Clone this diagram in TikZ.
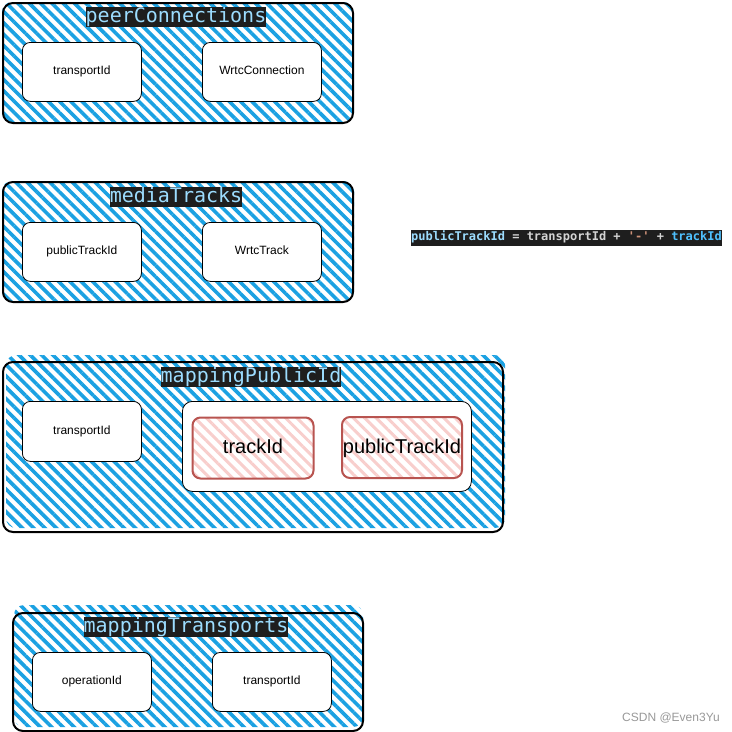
\documentclass[tikz,border=0pt]{standalone}
\usepackage{fontspec}
\setmainfont{Liberation Sans}
\newfontfamily\codefont{DejaVu Sans Mono}
\usetikzlibrary{patterns.meta}
\definecolor{hatchblue}{HTML}{1BA1E2}
\definecolor{codebg}{HTML}{1E1E1E}
\definecolor{codeblue}{HTML}{9CDCFE}
\definecolor{codelight}{HTML}{D4D4D4}
\definecolor{codestr}{HTML}{CE9178}
\definecolor{codevar}{HTML}{4FC1FF}
\definecolor{pinkfill}{HTML}{F8CECC}
\definecolor{pinkborder}{HTML}{B85450}
\definecolor{wmgrey}{HTML}{999999}
\begin{document}
\begin{tikzpicture}[x=1pt,y=-1pt,
  hatch/.style={pattern={Lines[angle=-45,distance=8pt,line width=3.6pt]}, pattern color=hatchblue, rounded corners=10pt},
  frame/.style={draw=black, line width=2pt, rounded corners=10pt, inner sep=0pt, anchor=north west},
  field/.style={draw=black, line width=0.8pt, fill=white, rounded corners=8pt, minimum width=119pt, minimum height=59pt, anchor=north west, inner sep=0pt, font=\fontsize{12}{14}\selectfont, text height=9pt, text depth=3pt},
  holder/.style={draw=black, line width=0.8pt, fill=white, rounded corners=10pt, anchor=north west, inner sep=0pt},
  titlebox/.style={fill=codebg, text=codeblue, font=\codefont\fontsize{20}{20}\selectfont, inner xsep=0pt, inner ysep=0pt, text height=15pt, text depth=5pt},
  pinkbox/.style={draw=pinkborder, line width=2pt, rounded corners=8pt, preaction={fill=white}, pattern={Lines[angle=-45,distance=8pt,line width=3pt]}, pattern color=pinkfill, anchor=north west, minimum width=121pt, minimum height=61pt, font=\fontsize{20}{24}\selectfont, inner sep=0pt, text height=15pt, text depth=4pt},
  codeline/.style={fill=codebg, font=\codefont\bfseries\fontsize{12}{12}\selectfont, inner xsep=0pt, inner ysep=0pt, text height=11pt, text depth=5pt},
  watermark/.style={text=wmgrey, font=\fontsize{12}{14}\selectfont, inner sep=0pt}
]
\useasboundingbox[fill=white] (0,0) rectangle (732,732);

% peerConnections
\fill[hatch] (2,2) rectangle (353,122);
\node[frame, minimum width=350pt, minimum height=120pt] (pc) at (2,2) {};
\node[titlebox] (pcT) at (176,17) {peerConnections};
\node[field] (pc1) at (22,42) {transportId};
\node[field] (pc2) at (202,42) {WrtcConnection};

% mediaTracks
\fill[hatch] (2,181) rectangle (354,301);
\node[frame, minimum width=350pt, minimum height=120pt] (mt) at (2,181) {};
\node[titlebox] (mtT) at (176,197) {mediaTracks};
\node[field] (mt1) at (22,222) {publicTrackId};
\node[field] (mt2) at (202,222) {WrtcTrack};

% code line
\node[codeline] (code) at (566.5,237.5) {\textcolor{codeblue}{publicTrackId}\textcolor{codelight}{\ =\ transportId\ +\ }\textcolor{codestr}{'-'}\textcolor{codelight}{\ +\ }\textcolor{codevar}{trackId}};

% mappingPublicId
\fill[hatch] (6,355) rectangle (505,528);
\node[frame, minimum width=500pt, minimum height=170pt] (mp) at (2,361) {};
\node[titlebox] (mpT) at (251,377) {mappingPublicId};
\node[field, minimum height=60pt] (mp1) at (22,401) {transportId};
\node[holder, minimum width=289pt, minimum height=90pt] (mp2) at (182,401) {};
\node[pinkbox] (mp3) at (191,416) {trackId};
\node[pinkbox, minimum width=120pt] (mp4) at (341,416) {publicTrackId};

% mappingTransports
\fill[hatch] (14,605) rectangle (363,727);
\node[frame, minimum width=350pt, minimum height=118pt] (mtr) at (12,612) {};
\node[titlebox] (mtrT) at (186,627) {mappingTransports};
\node[field] (mtr1) at (32,652) {operationId};
\node[field] (mtr2) at (212,652) {transportId};

% watermark
\node[watermark, anchor=east] (wm) at (720,718) {CSDN @Even3Yu};
\end{tikzpicture}
\end{document}
